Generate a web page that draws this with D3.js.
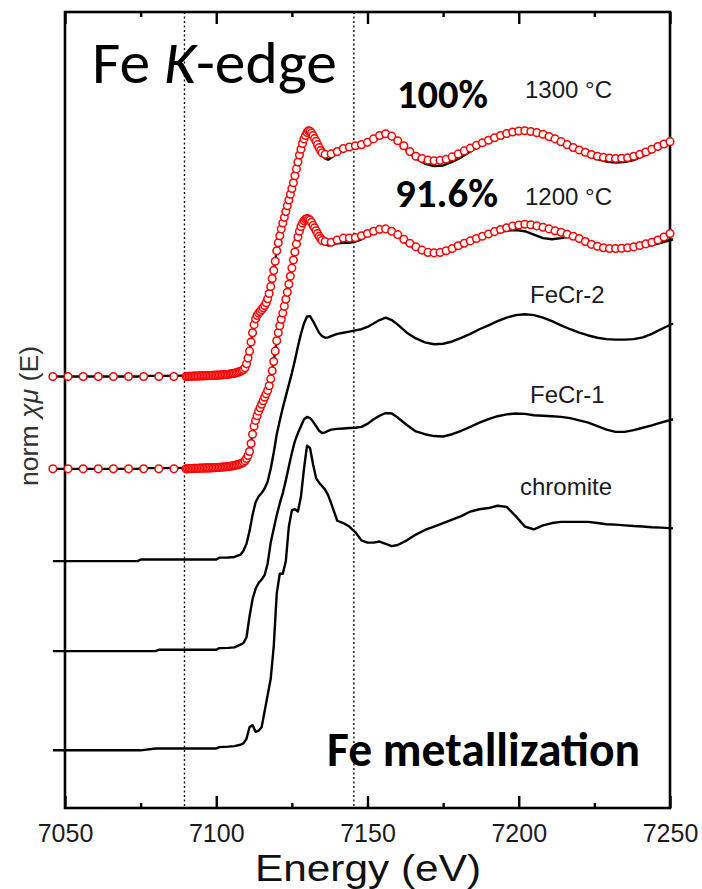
<!DOCTYPE html>
<html><head><meta charset="utf-8">
<script src="https://cdn.jsdelivr.net/npm/d3@7"></script>
<style>
html,body{margin:0;padding:0;background:#fff;}
svg{display:block;}
</style></head>
<body><svg id="chart" width="702" height="889"></svg>
<script>
// ---------------- DATA ----------------
const xTicks = [7050, 7100, 7150, 7200, 7250];
const xMinorTicks = [7075, 7125, 7175, 7225];
const guideEnergies = [7089.5, 7145.5];

// vertical stacking offsets (normalized units)
const offsetChromite = 0.0;
const offsetFeCr1 = 0.43;
const offsetFeCr2 = 0.82;
const offset1200 = 1.22;
const offset1300 = 1.62;

// energy grid of the measured (black) spectra
const lineEnergy = [
  7046, 7074, 7075, 7080, 7081, 7100, 7101, 7104, 7106, 7108,
  7109, 7110, 7111, 7112, 7113, 7114, 7115, 7116, 7117, 7118,
  7119, 7120, 7121, 7122, 7123, 7124, 7125, 7126, 7127, 7128,
  7129, 7130, 7131, 7132, 7133, 7134, 7135, 7136, 7137, 7138,
  7140, 7142, 7144, 7146, 7148, 7150, 7152, 7154, 7156, 7158,
  7160, 7163, 7166, 7169, 7172, 7175, 7178, 7181, 7184, 7187,
  7190, 7193, 7196, 7199, 7202, 7205, 7208, 7211, 7214, 7217,
  7220, 7223, 7226, 7229, 7232, 7235, 7238, 7241, 7244, 7247,
  7251
];

const chromite = [
  0.0, 0.0, 0.0, 0.008, 0.008, 0.008, 0.014, 0.016, 0.018, 0.024,
  0.03, 0.05, 0.1, 0.11, 0.08, 0.085, 0.1, 0.17, 0.24, 0.31,
  0.45, 0.68, 0.765, 0.765, 0.82, 0.97, 1.04, 1.045, 1.035, 1.1,
  1.22, 1.32, 1.31, 1.24, 1.18, 1.16, 1.145, 1.13, 1.105, 1.07,
  0.995, 0.985, 0.97, 0.945, 0.91, 0.9, 0.9, 0.905, 0.895, 0.885,
  0.89, 0.91, 0.935, 0.955, 0.97, 0.985, 1.0, 1.015, 1.035, 1.045,
  1.05, 1.06, 1.055, 1.015, 0.97, 0.958, 0.975, 0.985, 0.99, 0.99,
  0.99, 0.99, 0.985, 0.98, 0.978, 0.975, 0.972, 0.97, 0.967, 0.965,
  0.962
];

const feCr1 = [
  0.0, 0.0, 0.0, 0.0, 0.006, 0.006, 0.013, 0.014, 0.016, 0.028,
  0.035, 0.06, 0.15, 0.225, 0.27, 0.295, 0.31, 0.33, 0.38, 0.47,
  0.53, 0.59, 0.64, 0.685, 0.74, 0.8, 0.86, 0.91, 0.945, 0.975,
  1.005, 1.015, 1.01, 0.995, 0.975, 0.955, 0.945, 0.948, 0.955, 0.96,
  0.963, 0.965, 0.967, 0.968, 0.972, 0.985, 1.005, 1.02, 1.032, 1.03,
  1.012, 0.98, 0.952, 0.94, 0.932, 0.93, 0.94, 0.955, 0.972, 0.99,
  1.005, 1.018, 1.026, 1.03, 1.028, 1.022, 1.02, 1.018, 1.015, 1.01,
  1.0, 0.99, 0.975, 0.96, 0.95, 0.95, 0.958, 0.968, 0.978, 0.99,
  1.005
];

const feCr2 = [
  0.0, 0.0, 0.007, 0.007, 0.007, 0.007, 0.015, 0.016, 0.018, 0.028,
  0.045, 0.075, 0.13, 0.2, 0.255, 0.28, 0.295, 0.315, 0.345, 0.4,
  0.47, 0.55, 0.61, 0.665, 0.715, 0.765, 0.815, 0.87, 0.93, 0.985,
  1.03, 1.06, 1.062, 1.04, 1.015, 0.99, 0.975, 0.968, 0.97, 0.975,
  0.985, 0.99, 0.995, 1.0, 1.005, 1.015, 1.03, 1.045, 1.055, 1.045,
  1.025, 0.99, 0.965, 0.948, 0.94, 0.942, 0.952, 0.968, 0.985, 1.005,
  1.022, 1.04, 1.055, 1.066, 1.07, 1.066, 1.055, 1.04, 1.022, 1.005,
  0.99, 0.978, 0.968, 0.962, 0.96, 0.96, 0.962, 0.97, 0.985, 1.005,
  1.03
];

const exp1200 = [
  0.0, 0.0, 0.003, 0.003, 0.003, 0.005, 0.008, 0.01, 0.014, 0.02,
  0.03, 0.045, 0.075, 0.15, 0.21, 0.25, 0.28, 0.31, 0.34, 0.39,
  0.465, 0.555, 0.62, 0.675, 0.735, 0.8, 0.87, 0.94, 1.005, 1.05,
  1.075, 1.085, 1.078, 1.055, 1.032, 1.008, 0.99, 0.975, 0.968, 0.97,
  0.978, 0.98, 0.98, 0.985, 0.995, 1.01, 1.025, 1.035, 1.035, 1.025,
  1.01, 0.975, 0.955, 0.94, 0.932, 0.935, 0.945, 0.962, 0.98, 0.998,
  1.012, 1.025, 1.032, 1.035, 1.03, 1.015, 1.0, 0.995, 1.0, 1.008,
  1.0, 0.985, 0.968, 0.958, 0.952, 0.952, 0.955, 0.962, 0.97, 0.98,
  0.995
];

const exp1300 = [
  0.0, 0.0, 0.003, 0.003, 0.003, 0.005, 0.008, 0.01, 0.014, 0.02,
  0.03, 0.055, 0.11, 0.19, 0.25, 0.275, 0.29, 0.308, 0.337, 0.39,
  0.46, 0.545, 0.61, 0.665, 0.715, 0.765, 0.815, 0.87, 0.93, 0.985,
  1.03, 1.058, 1.063, 1.045, 1.02, 0.99, 0.962, 0.945, 0.94, 0.948,
  0.975, 0.985, 0.995, 1.0, 1.005, 1.015, 1.03, 1.045, 1.05, 1.04,
  1.02, 0.98, 0.945, 0.922, 0.912, 0.915, 0.93, 0.95, 0.975, 1.0,
  1.02, 1.035, 1.05, 1.06, 1.062, 1.058, 1.048, 1.032, 1.015, 0.995,
  0.975, 0.958, 0.942, 0.932, 0.928, 0.93, 0.938, 0.955, 0.975, 0.998,
  1.02
];

// energy grid of the fitted (red circle) spectra
const fitEnergy = [
  7046, 7051, 7056, 7061, 7066, 7071, 7076, 7081, 7086,
  7090, 7090.5, 7091, 7091.5, 7092, 7092.5, 7093, 7093.5, 7094, 7094.5,
  7095, 7095.5, 7096, 7096.5, 7097, 7097.5, 7098, 7098.5, 7099, 7099.5,
  7100, 7100.5, 7101, 7101.5, 7102, 7102.5, 7103, 7103.5, 7104, 7104.5,
  7105, 7105.5, 7106, 7106.5, 7107, 7107.5, 7108,
  7108.5, 7109, 7109.5, 7110, 7110.5, 7111, 7111.5, 7112, 7112.5, 7113,
  7113.5, 7114, 7114.5, 7115, 7115.5, 7116, 7116.5, 7117, 7117.5, 7118,
  7118.5, 7119, 7119.5, 7120, 7120.5, 7121, 7121.5, 7122, 7122.5, 7123,
  7123.5, 7124, 7124.5, 7125, 7125.5, 7126, 7126.5, 7127, 7127.5, 7128,
  7128.5, 7129, 7129.5, 7130, 7130.5, 7131, 7131.5, 7132, 7132.5, 7133,
  7133.5, 7134, 7134.5, 7135,
  7136, 7138, 7140, 7142, 7144, 7146, 7148, 7150, 7152, 7154,
  7156, 7158, 7160, 7162, 7164, 7166, 7168, 7170, 7172, 7174,
  7176, 7178, 7180, 7182, 7184, 7186, 7188, 7190, 7192, 7194,
  7196, 7198, 7200, 7202, 7204, 7206, 7208, 7210, 7212, 7214,
  7216, 7218, 7220, 7222, 7224, 7226, 7228, 7230, 7232, 7234,
  7236, 7238, 7240, 7242, 7244, 7246, 7248, 7250
];

const fit1300 = [
  0, 0, 0, 0, 0, 0, 0, 0, 0,
  0.0, 0.0, 0.001, 0.001, 0.001, 0.002, 0.002, 0.002, 0.002, 0.003,
  0.003, 0.003, 0.003, 0.004, 0.004, 0.004, 0.004, 0.005, 0.005, 0.005,
  0.006, 0.006, 0.007, 0.007, 0.008, 0.008, 0.009, 0.009, 0.01, 0.011,
  0.012, 0.013, 0.014, 0.016, 0.018, 0.02, 0.023,
  0.026, 0.03, 0.038, 0.055, 0.08, 0.11, 0.15, 0.19, 0.225, 0.25,
  0.265, 0.275, 0.282, 0.29, 0.298, 0.308, 0.32, 0.337, 0.36, 0.39,
  0.425, 0.46, 0.5, 0.545, 0.58, 0.61, 0.64, 0.665, 0.69, 0.715,
  0.74, 0.765, 0.79, 0.815, 0.84, 0.87, 0.9, 0.93, 0.96, 0.985,
  1.01, 1.03, 1.045, 1.058, 1.065, 1.063, 1.055, 1.045, 1.032, 1.02,
  1.005, 0.992, 0.98, 0.97,
  0.963, 0.965, 0.975, 0.988, 0.995, 1.0, 1.005, 1.015, 1.03, 1.045,
  1.052, 1.042, 1.022, 1.0, 0.975, 0.955, 0.945, 0.938, 0.935, 0.937,
  0.942, 0.952, 0.965, 0.978, 0.99, 1.002, 1.013, 1.024, 1.035, 1.045,
  1.053, 1.06, 1.064, 1.065, 1.062, 1.057, 1.05, 1.04, 1.03, 1.018,
  1.005, 0.993, 0.982, 0.972, 0.962, 0.955, 0.95, 0.947, 0.945, 0.946,
  0.948, 0.955, 0.963, 0.973, 0.985, 0.997, 1.008, 1.018
];

const fit1200 = [
  0, 0, 0, 0, 0, 0, 0, 0, 0,
  0.0, 0.0, 0.001, 0.001, 0.001, 0.002, 0.002, 0.002, 0.002, 0.003,
  0.003, 0.003, 0.003, 0.004, 0.004, 0.004, 0.004, 0.005, 0.005, 0.005,
  0.006, 0.006, 0.007, 0.007, 0.008, 0.008, 0.009, 0.009, 0.01, 0.011,
  0.012, 0.013, 0.014, 0.016, 0.018, 0.02, 0.022,
  0.025, 0.028, 0.035, 0.045, 0.058, 0.075, 0.11, 0.15, 0.185, 0.21,
  0.23, 0.25, 0.265, 0.28, 0.295, 0.31, 0.325, 0.34, 0.36, 0.39,
  0.425, 0.465, 0.51, 0.555, 0.59, 0.62, 0.648, 0.675, 0.705, 0.735,
  0.765, 0.8, 0.835, 0.87, 0.905, 0.94, 0.975, 1.005, 1.03, 1.05,
  1.065, 1.075, 1.082, 1.085, 1.083, 1.078, 1.068, 1.055, 1.045, 1.032,
  1.02, 1.008, 0.998, 0.99,
  0.985, 0.982, 0.992, 1.0, 1.0, 1.002, 1.01, 1.02, 1.03, 1.038,
  1.04, 1.03, 1.015, 0.995, 0.978, 0.962, 0.948, 0.938, 0.936, 0.938,
  0.945, 0.955, 0.967, 0.978, 0.988, 0.998, 1.008, 1.018, 1.028, 1.037,
  1.045, 1.052, 1.057, 1.06, 1.058, 1.053, 1.047, 1.04, 1.032, 1.025,
  1.017, 1.008, 0.998, 0.985, 0.973, 0.965, 0.958, 0.955, 0.955, 0.956,
  0.958, 0.962, 0.968, 0.975, 0.982, 0.992, 1.005, 1.02
];

// ---------------- CHART ----------------
const svg = d3.select("#chart");
const x = d3.scaleLinear().domain([7050, 7250]).range([65, 670]);
const y = d3.scaleLinear().domain([-0.25, 3.2]).range([808, 12]);
const yTop = y.range()[1], yBottom = y.range()[0];

// guide dotted lines
svg.append("g").selectAll("line").data(guideEnergies).join("line")
  .attr("x1", d => x(d)).attr("x2", d => x(d))
  .attr("y1", yTop).attr("y2", yBottom)
  .attr("stroke", "#111").attr("stroke-width", 1.4)
  .attr("stroke-dasharray", "2,2.5");

// axes
const fontAxis = "'Liberation Sans', Arial, sans-serif";
const bottomAxis = d3.axisBottom(x).tickValues(xTicks).tickSize(-12).tickPadding(16).tickFormat(d3.format("d"));
const gB = svg.append("g").attr("transform", `translate(0,${yBottom})`).call(bottomAxis);
gB.select(".domain").remove();
gB.selectAll("line").attr("stroke", "#000").attr("stroke-width", 2.4);
gB.selectAll("text").attr("font-family", fontAxis).attr("font-size", 25).attr("fill", "#1a1a24");

const gBm = svg.append("g").attr("transform", `translate(0,${yBottom})`)
  .call(d3.axisBottom(x).tickValues(xMinorTicks).tickSize(-5).tickFormat(""));
gBm.select(".domain").remove();
gBm.selectAll("line").attr("stroke", "#000").attr("stroke-width", 2.4);

const gT = svg.append("g").attr("transform", `translate(0,${yTop})`)
  .call(d3.axisTop(x).tickValues(xTicks).tickSize(-12).tickFormat(""));
gT.select(".domain").remove();
gT.selectAll("line").attr("stroke", "#000").attr("stroke-width", 2.4);
const gTm = svg.append("g").attr("transform", `translate(0,${yTop})`)
  .call(d3.axisTop(x).tickValues(xMinorTicks).tickSize(-5).tickFormat(""));
gTm.select(".domain").remove();
gTm.selectAll("line").attr("stroke", "#000").attr("stroke-width", 2.4);

// frame
svg.append("rect").attr("x", x(7050)).attr("y", yTop)
  .attr("width", x(7250) - x(7050)).attr("height", yBottom - yTop)
  .attr("fill", "none").attr("stroke", "#000").attr("stroke-width", 2.6);

// measured spectra (black lines)
const lineSeries = [
  {v: chromite, off: offsetChromite},
  {v: feCr1, off: offsetFeCr1},
  {v: feCr2, off: offsetFeCr2},
  {v: exp1200, off: offset1200},
  {v: exp1300, off: offset1300}
];
const line = d3.line().x(d => x(d[0])).y(d => y(d[1]));
svg.append("g").selectAll("path").data(lineSeries).join("path")
  .attr("d", s => line(lineEnergy.map((e, i) => [e, s.v[i] + s.off])))
  .attr("fill", "none").attr("stroke", "#000").attr("stroke-width", 2.4)
  .attr("stroke-linejoin", "round");

// fitted spectra (red open circles)
const fitSeries = [
  {v: fit1200, off: offset1200},
  {v: fit1300, off: offset1300}
];
fitSeries.forEach(s => {
  svg.append("g").selectAll("circle")
    .data(fitEnergy.map((e, i) => [e, s.v[i] + s.off]))
    .join("circle")
    .attr("cx", d => x(d[0])).attr("cy", d => y(d[1]))
    .attr("r", 3.8).attr("fill", "#fff")
    .attr("stroke", "#ff0000").attr("stroke-width", 1.5);
});

// texts
const fontCal = "Carlito, Calibri, Lato, 'Open Sans', sans-serif";
const title = svg.append("text").attr("x", 92).attr("y", 83)
  .attr("font-family", fontCal).attr("font-size", 60).attr("fill", "#000")
  .attr("textLength", 245).attr("lengthAdjust", "spacingAndGlyphs");
title.append("tspan").text("Fe ");
title.append("tspan").attr("font-style", "italic").text("K");
title.append("tspan").text("-edge");

const boldLabels = [
  {t: "100%", x: 397, y: 108, w: 91, fs: 40},
  {t: "91.6%", x: 395, y: 207, w: 103, fs: 40},
  {t: "Fe metallization", x: 327, y: 766, w: 313, fs: 48}
];
svg.append("g").selectAll("text").data(boldLabels).join("text")
  .attr("x", d => d.x).attr("y", d => d.y).text(d => d.t)
  .attr("font-family", fontCal).attr("font-weight", "bold")
  .attr("font-size", d => d.fs).attr("fill", "#000")
  .attr("textLength", d => d.w).attr("lengthAdjust", "spacingAndGlyphs");

const sampleLabels = [
  {t: "1300 °C", x: 525, y: 98},
  {t: "1200 °C", x: 525, y: 205},
  {t: "FeCr-2", x: 530, y: 303},
  {t: "FeCr-1", x: 530, y: 403},
  {t: "chromite", x: 520, y: 495}
];
svg.append("g").selectAll("text").data(sampleLabels).join("text")
  .attr("x", d => d.x).attr("y", d => d.y).text(d => d.t)
  .attr("font-family", fontAxis).attr("font-size", 24).attr("fill", "#1a1a24");

svg.append("text").attr("x", 368).attr("y", 881).attr("text-anchor", "middle")
  .attr("font-family", fontAxis).attr("font-size", 37).attr("fill", "#111")
  .attr("textLength", 226).attr("lengthAdjust", "spacingAndGlyphs")
  .text("Energy (eV)");

const yl = svg.append("text").attr("transform", "translate(38,416) rotate(-90)")
  .attr("text-anchor", "middle").attr("font-family", fontAxis)
  .attr("font-size", 25).attr("fill", "#333")
  .attr("textLength", 140).attr("lengthAdjust", "spacingAndGlyphs");
yl.append("tspan").text("norm  ");
yl.append("tspan").attr("font-style", "italic").text("χμ");
yl.append("tspan").text(" (E)");
</script>
</body></html>
